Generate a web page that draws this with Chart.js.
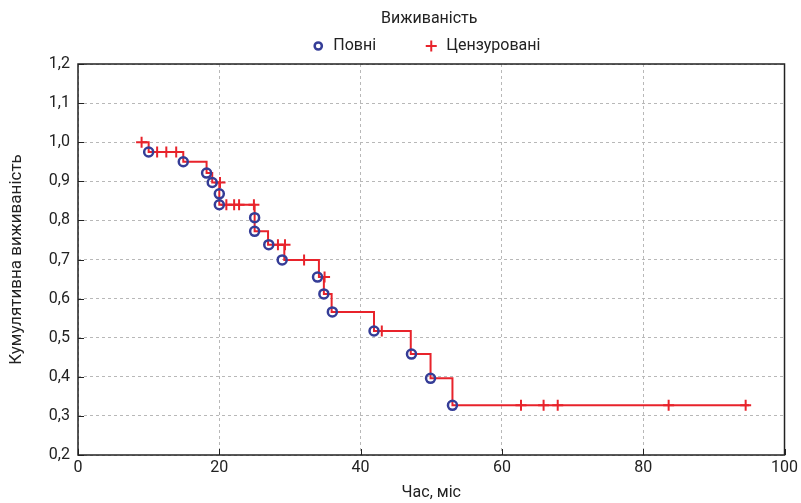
<!DOCTYPE html>
<html>
<head>
<meta charset="utf-8">
<script src="https://cdn.jsdelivr.net/npm/chart.js@4.4.1/dist/chart.umd.min.js"></script>
<style>
html,body{margin:0;padding:0;background:#fff;}
#wrap{width:801px;height:503px;position:relative;}
</style>
</head>
<body>
<div id="wrap"><canvas id="c" width="801" height="503"></canvas></div>
<script>
// Kaplan–Meier step line (time, survival)
const curveTime = [9, 10, 14.9, 18.2, 19, 20, 20, 25, 25, 26.9, 29.2, 34.1, 34.8, 35.9, 41.9, 47.1, 49.9, 53, 95];
const curveSurv = [1.0, 0.975, 0.95, 0.921, 0.897, 0.868, 0.840, 0.807, 0.772, 0.738, 0.699, 0.655, 0.612, 0.566, 0.517, 0.458, 0.396, 0.327, 0.327];
// Complete (events)
const eventTime = [10, 14.9, 18.2, 19, 20, 20, 25, 25, 27, 28.9, 33.9, 34.8, 36, 41.9, 47.2, 49.9, 53];
const eventSurv = [0.975, 0.95, 0.921, 0.897, 0.868, 0.840, 0.807, 0.772, 0.738, 0.699, 0.655, 0.612, 0.566, 0.517, 0.458, 0.396, 0.327];
// Censored
const censTime = [9, 11.2, 12.5, 13.9, 20.1, 21.0, 22.1, 22.8, 24.9, 28.3, 29.3, 32.0, 34.9, 43.0, 62.7, 65.9, 67.9, 83.6, 94.5];
const censSurv = [1.0, 0.975, 0.975, 0.975, 0.897, 0.840, 0.840, 0.840, 0.840, 0.738, 0.738, 0.699, 0.655, 0.517, 0.327, 0.327, 0.327, 0.327, 0.327];
const xTicks = [0, 20, 40, 60, 80, 100];
const yTicks = [0.2, 0.3, 0.4, 0.5, 0.6, 0.7, 0.8, 0.9, 1.0, 1.1, 1.2];

const legendTitle = 'Виживаність';
const seriesNames = ['Повні', 'Цензуровані'];
const xTitle = 'Час, міс';
const yTitle = 'Кумулятивна виживаність';

const toPts = (xs, ys) => xs.map((x, i) => ({x: x, y: ys[i]}));

const RED = '#e8232b';
const BLUE = '#353d97';
const TXT = '#222';
const FONT = "'Roboto', 'Noto Sans', sans-serif";

const framePlugin = {
  id: 'frame',
  beforeDatasetsDraw(chart) {
    const {ctx, chartArea: a, scales} = chart;
    ctx.save();
    ctx.strokeStyle = '#222';
    ctx.lineWidth = 1;
    ctx.setLineDash([]);
    ctx.beginPath();
    yTicks.forEach(v => {
      const y = Math.round(scales.y.getPixelForValue(v)) + 0.5;
      ctx.moveTo(a.left, y); ctx.lineTo(a.left + 6, y);
    });
    xTicks.forEach(v => {
      const x = Math.round(scales.x.getPixelForValue(v)) + 0.5;
      ctx.moveTo(x, a.bottom); ctx.lineTo(x, a.bottom - 6);
    });
    ctx.stroke();
    ctx.lineWidth = 1.5;
    ctx.strokeRect(a.left, a.top, a.right - a.left, a.bottom - a.top);
    ctx.restore();
  }
};

// Legend drawn at the top (title + two items)
const legendPlugin = {
  id: 'customLegend',
  afterDraw(chart) {
    const {ctx, chartArea: a} = chart;
    const cx = (a.left + a.right) / 2 - 2;
    ctx.save();
    ctx.fillStyle = TXT;
    ctx.font = "16px " + FONT;
    ctx.textAlign = 'center';
    ctx.textBaseline = 'middle';
    ctx.fillText(legendTitle, cx, 19);
    const y = 46;
    ctx.textAlign = 'left';
    // item 1: hollow circle
    const x1 = cx - 111;
    ctx.strokeStyle = BLUE;
    ctx.lineWidth = 2.5;
    ctx.beginPath();
    ctx.arc(x1, y, 3.6, 0, Math.PI * 2);
    ctx.stroke();
    ctx.fillText(seriesNames[0], x1 + 15, y);
    // item 2: plus
    const x2 = cx + 2;
    ctx.strokeStyle = RED;
    ctx.lineWidth = 2;
    ctx.beginPath();
    ctx.moveTo(x2 - 5.5, y); ctx.lineTo(x2 + 5.5, y);
    ctx.moveTo(x2, y - 5.5); ctx.lineTo(x2, y + 5.5);
    ctx.stroke();
    ctx.fillText(seriesNames[1], x2 + 15, y);
    ctx.restore();
  }
};

new Chart(document.getElementById('c'), {
  type: 'scatter',
  data: {
    datasets: [
      {
        label: 'curve',
        type: 'line',
        data: toPts(curveTime, curveSurv),
        stepped: true,
        borderColor: RED,
        borderWidth: 2,
        pointRadius: 0,
        fill: false,
        order: 3
      },
      {
        label: seriesNames[0],
        data: toPts(eventTime, eventSurv),
        pointStyle: 'circle',
        pointRadius: 4.5,
        borderWidth: 2.5,
        borderColor: BLUE,
        backgroundColor: 'rgba(255,255,255,0)',
        order: 1
      },
      {
        label: seriesNames[1],
        data: toPts(censTime, censSurv),
        pointStyle: 'cross',
        pointRadius: 5.5,
        borderWidth: 2,
        borderColor: RED,
        backgroundColor: RED,
        order: 2
      }
    ]
  },
  options: {
    responsive: false,
    animation: false,
    layout: { padding: { left: 0, right: 13, top: 64, bottom: 0 } },
    plugins: {
      tooltip: { enabled: false },
      legend: { display: false }
    },
    scales: {
      x: {
        type: 'linear',
        min: 0,
        max: 100,
        afterBuildTicks: (s) => { s.ticks = xTicks.map(v => ({value: v})); },
        afterFit: (s) => { s.height = 48; },
        grid: { color: '#b8b8b8', lineWidth: 1, drawTicks: false },
        border: { display: false, dash: [3, 3] },
        ticks: {
          padding: 3,
          color: TXT,
          font: { family: FONT, size: 16 }
        },
        title: {
          display: true,
          text: xTitle,
          color: TXT,
          font: { family: FONT, size: 16 },
          padding: { top: 0, bottom: 0 }
        }
      },
      y: {
        type: 'linear',
        min: 0.2,
        max: 1.2,
        afterBuildTicks: (s) => { s.ticks = yTicks.map(v => ({value: v})); },
        afterFit: (s) => { s.width = 78; },
        grid: { color: '#b8b8b8', lineWidth: 1, drawTicks: false },
        border: { display: false, dash: [3, 3] },
        ticks: {
          padding: 8,
          color: TXT,
          font: { family: FONT, size: 16 },
          callback: (v) => Number(v).toFixed(1).replace('.', ',')
        },
        title: {
          display: true,
          text: yTitle,
          color: TXT,
          font: { family: FONT, size: 17 },
          padding: { top: 7, bottom: 0 }
        }
      }
    }
  },
  plugins: [framePlugin, legendPlugin]
});
</script>
</body>
</html>
